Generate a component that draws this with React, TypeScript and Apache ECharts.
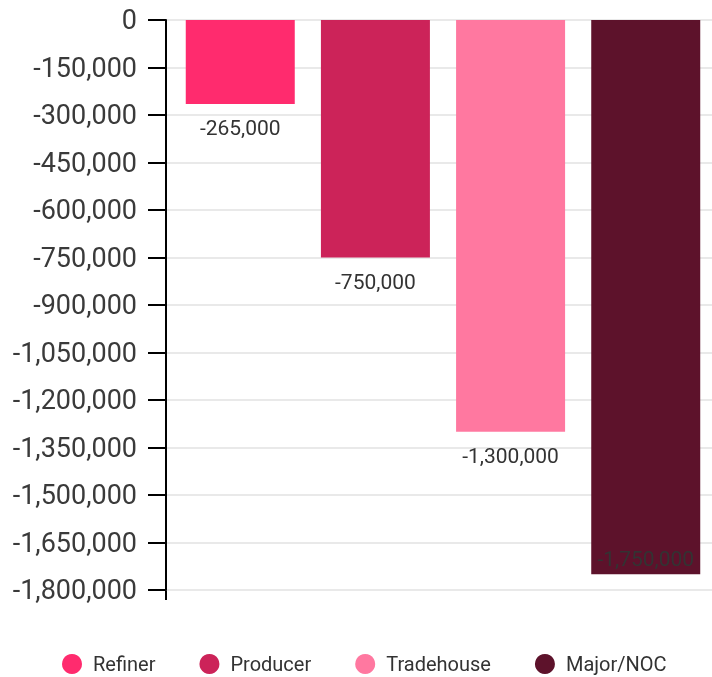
import React, { useEffect, useRef } from "react";
import * as echarts from "echarts";

const seriesNames = ["Refiner", "Producer", "Tradehouse", "Major/NOC"];
const seriesValues = [-265000, -750000, -1300000, -1750000];
const seriesColors = ["#FF2B6E", "#CC2359", "#FF78A0", "#5D122B"];
const categories = [""];
const yMin = -1800000;
const yMax = 0;
const yInterval = 150000;

const fmt = (v: number) => Number(v).toLocaleString("en-US");

export default function App() {
  const ref = useRef<HTMLDivElement>(null);
  useEffect(() => {
    if (!ref.current) return;
    const chart = echarts.init(ref.current, undefined, { renderer: "svg" });
    const series = seriesNames.map((name, i) => {
      const last = i === seriesNames.length - 1;
      return {
        name,
        type: "bar",
        data: [seriesValues[i]],
        barWidth: 109,
        barGap: "24%",
        itemStyle: { color: seriesColors[i] },
        label: {
          show: true,
          position: last ? "insideBottom" : "bottom",
          distance: last ? 5 : 14,
          fontFamily: "Roboto",
          fontSize: 21,
          color: "#333",
          formatter: (p: any) => fmt(p.value),
        },
      };
    });
    chart.setOption({
      animation: false,
      textStyle: { fontFamily: "Roboto" },
      grid: { left: 166, top: 20, right: 0, bottom: 87 },
      legend: {
        bottom: -2,
        left: 57,
        icon: "circle",
        itemWidth: 20,
        itemHeight: 20,
        itemGap: 44,
        data: seriesNames,
        textStyle: {
          fontFamily: "Roboto",
          fontSize: 20,
          color: "#333",
          padding: [0, 0, 0, 6],
        },
      },
      xAxis: {
        type: "category",
        data: categories,
        axisLine: { show: false },
        axisTick: { show: false },
        axisLabel: { show: false },
      },
      yAxis: {
        type: "value",
        min: yMin,
        max: yMax,
        interval: yInterval,
        axisLine: { show: true, lineStyle: { color: "#000", width: 2 } },
        axisTick: { show: true, length: 18, lineStyle: { color: "#000", width: 2 } },
        axisLabel: {
          margin: 29,
          fontFamily: "Roboto",
          fontSize: 27,
          color: "#3a3a3a",
          formatter: (v: number) => fmt(v),
        },
        splitLine: { show: true, lineStyle: { color: "#e2e2e2", width: 1.5 } },
      },
      graphic: [
        {
          type: "line",
          shape: { x1: 166, y1: 589, x2: 166, y2: 600 },
          style: { stroke: "#000", lineWidth: 2 },
        },
      ],
      series,
    });
    return () => chart.dispose();
  }, []);
  return (
    <div
      style={{
        position: "fixed",
        left: 0,
        top: 0,
        width: 712,
        height: 677,
        overflow: "hidden",
      }}
    >
      <div ref={ref} style={{ width: 720, height: 677 }} />
    </div>
  );
}
